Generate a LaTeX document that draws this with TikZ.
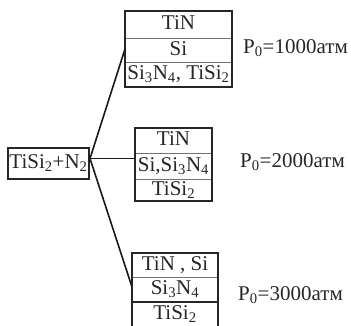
\documentclass[tikz,border=0pt]{standalone}
\usepackage{fontspec}
\setmainfont{Liberation Serif}
\begin{document}
\begin{tikzpicture}[x=1pt,y=-1pt,
  font=\fontsize{21}{24}\selectfont,
  box/.style={draw=black!85, line width=2pt, inner sep=0pt, outer sep=0pt},
  div/.style={draw=black!55, line width=0.9pt},
  thickdiv/.style={draw=black!85, line width=2pt},
  cell/.style={inner sep=0pt, text height=14pt, text depth=4pt, text=black!85},
  lab/.style={anchor=west, inner sep=0pt, text height=14pt, text depth=4pt, text=black!85},
  conn/.style={draw=black!90, line width=1.6pt}]
\useasboundingbox (0,0) rectangle (351,325);
\begin{scope}
\clip (0,0) rectangle (351,325);
% source
\node[box, minimum width=81pt, minimum height=31pt] (src) at (48.5,163.5) {};
\node[cell] (srct) at (48.5,163.5) {TiSi\textsubscript{2}+N\textsubscript{2}};
% box 1
\node[box, minimum width=107pt, minimum height=76pt] (b1) at (178.5,49) {};
\draw[div] ([xshift=1pt]b1.west |- 0,38) -- ([xshift=-1pt]b1.east |- 0,38);
\draw[div] ([xshift=1pt]b1.west |- 0,62) -- ([xshift=-1pt]b1.east |- 0,62);
\node[cell] (b1a) at (178.5,24.5) {TiN};
\node[cell] (b1b) at (178.5,50) {Si};
\node[cell] (b1c) at (178.5,74.5) {Si\textsubscript{3}N\textsubscript{4}, TiSi\textsubscript{2}};
\node[lab] (p1) at (243,48) {P\textsubscript{0}=1000атм};
% box 2
\node[box, minimum width=77pt, minimum height=73pt] (b2) at (173.5,164.5) {};
\draw[div] ([xshift=1pt]b2.west |- 0,153) -- ([xshift=-1pt]b2.east |- 0,153);
\draw[div] ([xshift=1pt]b2.west |- 0,179) -- ([xshift=-1pt]b2.east |- 0,179);
\node[cell] (b2a) at (173.5,140.5) {TiN};
\node[cell] (b2b) at (173.5,166) {Si,Si\textsubscript{3}N\textsubscript{4}};
\node[cell] (b2c) at (173.5,190) {TiSi\textsubscript{2}};
\node[lab] (p2) at (240,162) {P\textsubscript{0}=2000атм};
% box 3
\node[box, minimum width=86pt, minimum height=74pt] (b3) at (175,290) {};
\draw[div] ([xshift=1pt]b3.west |- 0,277) -- ([xshift=-1pt]b3.east |- 0,277);
\draw[thickdiv] (b3.west |- 0,302) -- (b3.east |- 0,302);
\node[cell] (b3a) at (175,265) {TiN , Si};
\node[cell] (b3b) at (175,289.5) {Si\textsubscript{3}N\textsubscript{4}};
\node[cell] (b3c) at (175,314) {TiSi\textsubscript{2}};
\node[lab] (p3) at (238,295) {P\textsubscript{0}=3000атм};
% connectors
\coordinate (J) at ([yshift=5pt,xshift=1pt]src.east);
\draw[conn] (J) -- (b1.west);
\draw[conn] (J) -- (J -| b2.west);
\draw[conn] (J) -- ([yshift=3pt]b3.west);
\end{scope}
\end{tikzpicture}
\end{document}
